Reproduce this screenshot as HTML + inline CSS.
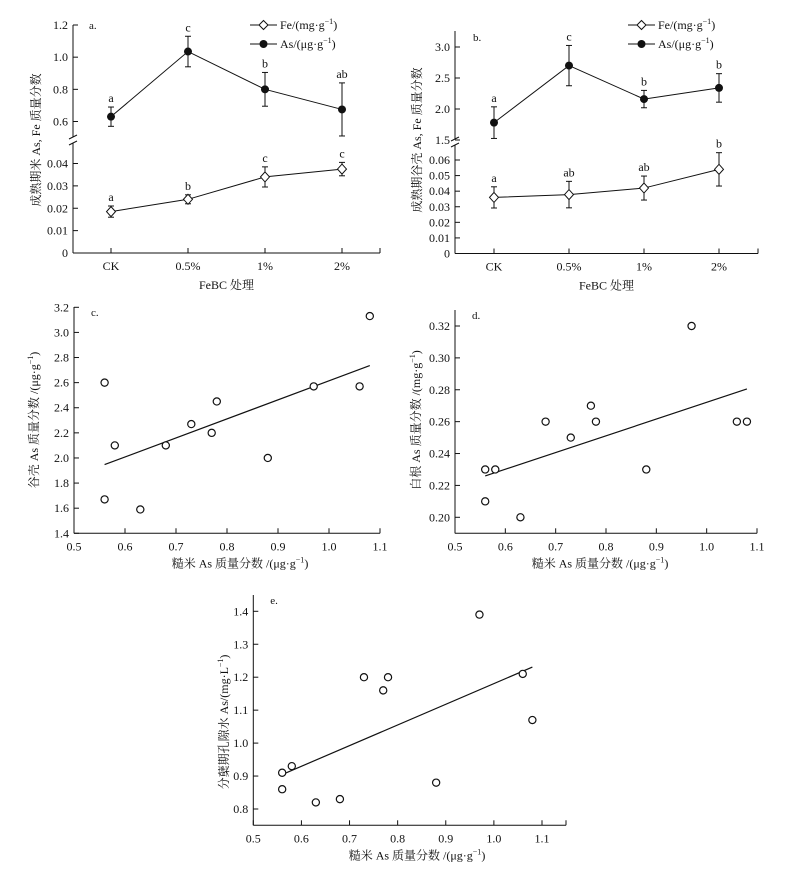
<!DOCTYPE html>
<html><head><meta charset="utf-8"><style>
html,body{margin:0;padding:0;background:#fff}
svg text{font-family:"Liberation Serif","Noto Serif CJK SC","Noto Sans CJK SC",serif;fill:#111}
</style></head><body>
<svg id="fig" width="787" height="876" viewBox="0 0 787 876" xmlns="http://www.w3.org/2000/svg"></svg>
<script>
// ---- data ----
const categories = ["CK","0.5%","1%","2%"];
const aAs = [0.63,1.035,0.80,0.675];
const aAsErr = [0.06,0.095,0.105,0.165];
const aAsLetters = ["a","c","b","ab"];
const aFe = [0.0185,0.024,0.034,0.0375];
const aFeErr = [0.0025,0.002,0.0045,0.003];
const aFeLetters = ["a","b","c","c"];
const bAs = [1.78,2.70,2.16,2.34];
const bAsErr = [0.255,0.325,0.14,0.23];
const bAsLetters = ["a","c","b","b"];
const bFe = [0.036,0.0378,0.042,0.054];
const bFeErr = [0.0068,0.0085,0.0077,0.0107];
const bFeLetters = ["a","ab","ab","b"];
const riceAs = [0.56,0.58,0.56,0.63,0.68,0.73,0.77,0.78,0.88,0.97,1.06,1.08];
const huskAs = [2.60,2.10,1.67,1.59,2.10,2.27,2.20,2.45,2.00,2.57,2.57,3.13];
const rootAs = [0.23,0.23,0.21,0.20,0.26,0.25,0.27,0.26,0.23,0.32,0.26,0.26];
const poreAs = [0.91,0.93,0.86,0.82,0.83,1.20,1.16,1.20,0.88,1.39,1.21,1.07];
const aUpperTicks = ["0.6","0.8","1.0","1.2"];
const aLowerTicks = ["0","0.01","0.02","0.03","0.04"];
const bUpperTicks = ["1.5","2.0","2.5","3.0"];
const bLowerTicks = ["0","0.01","0.02","0.03","0.04","0.05","0.06"];
const xTicksScatter = ["0.5","0.6","0.7","0.8","0.9","1.0","1.1"];
const cTicks = ["1.4","1.6","1.8","2.0","2.2","2.4","2.6","2.8","3.0","3.2"];
const dTicks = ["0.20","0.22","0.24","0.26","0.28","0.30","0.32"];
const eTicks = ["0.8","0.9","1.0","1.1","1.2","1.3","1.4"];

const svg = document.getElementById('fig');
const NS = "http://www.w3.org/2000/svg";
function mk(tag, at, parent){const e=document.createElementNS(NS,tag);for(const k in at)e.setAttribute(k,at[k]);(parent||svg).appendChild(e);return e;}
function txt(s,x,y,size,anchor,parent){const t=mk('text',{x:x,y:y,'font-size':size,'text-anchor':anchor||'middle'},parent);t.textContent=s;return t;}
function line(x1,y1,x2,y2,parent,w){return mk('line',{x1:x1,y1:y1,x2:x2,y2:y2,stroke:'#111','stroke-width':w||1},parent);}
function lin(d0,d1,r0,r1){return v=>r0+(v-d0)*(r1-r0)/(d1-d0);}

function legend(g,x,y){
  line(x,y,x+27,y,g);
  const d=mk('path',{d:`M${x+13.5} ${y-4.5}L${x+18} ${y}L${x+13.5} ${y+4.5}L${x+9} ${y}Z`,fill:'#fff',stroke:'#111'},g);
  
  const t1=txt('',x+30,y+4,12,'start',g);t1.innerHTML='Fe/(mg·g<tspan font-size="8" dy="-5">−1</tspan><tspan dy="5">)</tspan>';
  
  line(x,y+19,x+27,y+19,g);
  mk('circle',{cx:x+13.5,cy:y+19,r:4,fill:'#111'},g);
  const t2=txt('',x+30,y+23,12,'start',g);t2.innerHTML='As/(μg·g<tspan font-size="8" dy="-5">−1</tspan><tspan dy="5">)</tspan>';
  
}

function linePanel(o){
  const g=mk('g',{});
  
  
  const {ax,x1,top,brk,bottom}=o;
  line(ax,top,ax,brk-3,g);line(ax,brk+3,ax,bottom,g);
  line(ax-4,brk-1,ax+4,brk-5,g);line(ax-4,brk+5,ax+4,brk+1,g);
  line(ax,bottom,x1,bottom,g);
  const xs=o.catX;
  categories.forEach((c,i)=>{line(xs[i],bottom,xs[i],bottom-5,g);txt(c,xs[i],bottom+17,12,'middle',g);});
  line(x1,bottom,x1,bottom-5,g);
  o.upTicks.forEach(t=>{const y=o.yU(parseFloat(t));line(ax,y,ax+5,y,g);txt(t,ax-5,y+4,12,'end',g);});
  o.loTicks.forEach(t=>{const y=o.yL(parseFloat(t));line(ax,y,ax+5,y,g);txt(t,ax-5,y+4,12,'end',g);});
  function series(vals,errs,letters,ys,filled,nm){
    const sg=mk('g',{},g);
    let d='';vals.forEach((v,i)=>{d+=(i?'L':'M')+xs[i]+' '+ys(v);});
    mk('path',{d:d,fill:'none',stroke:'#111','stroke-width':1},sg);
    vals.forEach((v,i)=>{
      const y=ys(v),yt=ys(v+errs[i]),yb=ys(v-errs[i]);
      line(xs[i],yt,xs[i],yb,sg);line(xs[i]-3,yt,xs[i]+3,yt,sg);line(xs[i]-3,yb,xs[i]+3,yb,sg);
      let m;
      if(filled) m=mk('circle',{cx:xs[i],cy:y,r:4,fill:'#111'},sg);
      else m=mk('path',{d:`M${xs[i]} ${y-5}L${xs[i]+4.5} ${y}L${xs[i]} ${y+5}L${xs[i]-4.5} ${y}Z`,fill:'#fff',stroke:'#111'},sg);
      
      txt(letters[i],xs[i],yt-5,12,'middle',sg);
    });
  }
  series(o.as,o.asErr,o.asL,o.yU,true,'as-series');
  series(o.fe,o.feErr,o.feL,o.yL,false,'fe-series');
  txt(o.label,o.labX,o.labY,11,'start',g);
  txt('FeBC 处理',(ax+x1)/2,bottom+36,12,'middle',g);
  const yt=txt(o.ytitle,0,0,12,'middle',g);yt.setAttribute('transform',`translate(${o.ytX},${o.ytY}) rotate(-90)`);
  
  legend(g,o.legX,25);
}

linePanel({name:'panel-a',ax:73,x1:380,top:25,brk:140,bottom:253,catX:[111,188,265,342],
  yU:lin(0.6,1.2,121.5,25),yL:lin(0,0.04,253,163.5),upTicks:aUpperTicks,loTicks:aLowerTicks,
  as:aAs,asErr:aAsErr,asL:aAsLetters,fe:aFe,feErr:aFeErr,feL:aFeLetters,label:'a.',labX:89,labY:29,
  ytitle:'成熟期米 As, Fe 质量分数',ytX:40,ytY:140,legX:250});
linePanel({name:'panel-b',ax:455,x1:758,top:31,brk:142,bottom:253.5,catX:[494,569,644,719],
  yU:lin(1.5,3.0,140,47),yL:lin(0,0.06,253.5,160),upTicks:bUpperTicks,loTicks:bLowerTicks,
  as:bAs,asErr:bAsErr,asL:bAsLetters,fe:bFe,feErr:bFeErr,feL:bFeLetters,label:'b.',labX:473,labY:41,
  ytitle:'成熟期谷壳 As, Fe 质量分数',ytX:421,ytY:140,legX:628});

function scatter(o){
  const g=mk('g',{});
  
  
  const xs=lin(0.5,1.1,o.ax,o.x11), ys=lin(o.y0,o.y1,o.py0,o.py1);
  line(o.ax,o.top,o.ax,o.bottom,g);line(o.ax,o.bottom,o.xEnd,o.bottom,g);
  xTicksScatter.forEach(t=>{const x=xs(parseFloat(t));line(x,o.bottom,x,o.bottom-5,g);txt(t,x,o.bottom+17,12,'middle',g);});
  if(o.xEnd>o.x11+5) line(o.xEnd,o.bottom,o.xEnd,o.bottom-5,g);
  o.ticks.forEach(t=>{const y=ys(parseFloat(t));line(o.ax,y,o.ax+5,y,g);txt(t,o.ax-5,y+4,12,'end',g);});
  const n=o.xv.length;let mx=0,my=0;o.xv.forEach((v,i)=>{mx+=v;my+=o.yv[i];});mx/=n;my/=n;
  let sxy=0,sxx=0;o.xv.forEach((v,i)=>{sxy+=(v-mx)*(o.yv[i]-my);sxx+=(v-mx)*(v-mx);});
  const b=sxy/sxx,a=my-b*mx;const xmin=Math.min(...o.xv),xmax=Math.max(...o.xv);
  const fl=line(xs(xmin),ys(a+b*xmin),xs(xmax),ys(a+b*xmax),g,1.2);
  
  o.xv.forEach((v,i)=>{const c=mk('circle',{cx:xs(v),cy:ys(o.yv[i]),r:3.6,fill:'#fff',stroke:'#111','stroke-width':1.2},g);
    });
  txt(o.label,o.ax+17,o.top+9,11,'start',g);
  const xt=txt('',o.xtX,o.bottom+34,12,'middle',g);
  xt.innerHTML='糙米 As 质量分数 /(μg·g<tspan font-size="8" dy="-5">−1</tspan><tspan dy="5">)</tspan>';
  
  const yt=txt('',0,0,12,'middle',g);yt.innerHTML=o.ytitle;
  yt.setAttribute('transform',`translate(${o.ytX},${o.ytY}) rotate(-90)`);
  
}
scatter({name:'panel-c',ax:74,x11:380,xEnd:380,top:307,bottom:533.3,y0:1.4,y1:3.2,py0:533.3,py1:307.3,
  ticks:cTicks,xv:riceAs,yv:huskAs,label:'c.',xtX:240,ytX:38,ytY:420,
  ytitle:'谷壳 As 质量分数 /(μg·g<tspan font-size="8" dy="-5">−1</tspan><tspan dy="5">)</tspan>'});
scatter({name:'panel-d',ax:455,x11:757,xEnd:757,top:310,bottom:533.3,y0:0.20,y1:0.32,py0:517.3,py1:326,
  ticks:dTicks,xv:riceAs,yv:rootAs,label:'d.',xtX:600,ytX:420,ytY:420,
  ytitle:'白根 As 质量分数 /(mg·g<tspan font-size="8" dy="-5">−1</tspan><tspan dy="5">)</tspan>'});
scatter({name:'panel-e',ax:253.3,x11:542,xEnd:566,top:595,bottom:825.3,y0:0.8,y1:1.4,py0:809,py1:611.3,
  ticks:eTicks,xv:riceAs,yv:poreAs,label:'e.',xtX:417,ytX:228,ytY:722,
  ytitle:'分蘖期孔隙水 As/(mg·L<tspan font-size="8" dy="-5">−1</tspan><tspan dy="5">)</tspan>'});
</script>
</body></html>
